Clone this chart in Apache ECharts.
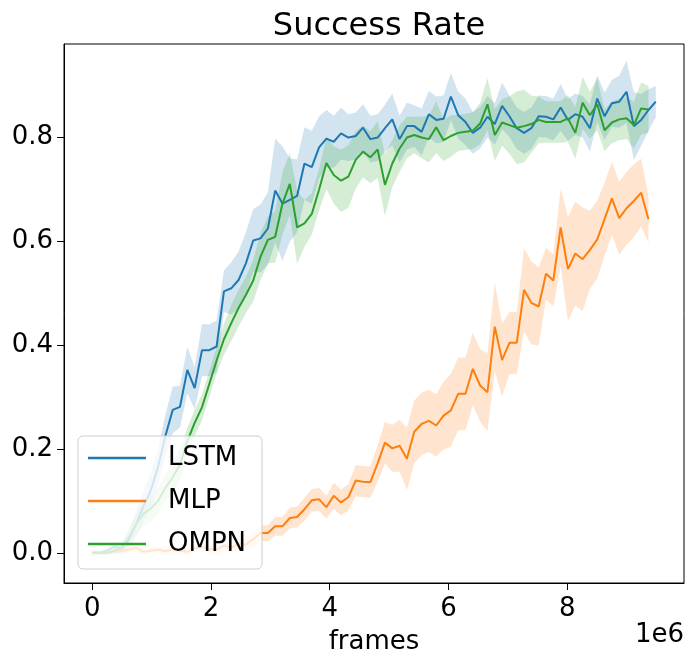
<!DOCTYPE html>
<html>
<head>
<meta charset="utf-8">
<script src="https://cdn.jsdelivr.net/npm/echarts@6/dist/echarts.min.js"></script>
<style>
  html, body { margin: 0; padding: 0; background: #fff; }
  #main { width: 694px; height: 664px; }
</style>
</head>
<body>
<div id="main"></div>
<script>
// frames between logged points (x is i * STEP)
var STEP = 123250;

var lstm = [0.0, 0.0, 0.004, 0.012, 0.008, 0.025, 0.055, 0.09, 0.12, 0.165,
  0.225, 0.275, 0.281, 0.352, 0.317, 0.39, 0.39, 0.397, 0.503, 0.509,
  0.525, 0.557, 0.601, 0.605, 0.624, 0.697, 0.672, 0.679, 0.687, 0.749,
  0.742, 0.78, 0.797, 0.791, 0.807, 0.799, 0.802, 0.818, 0.796, 0.799,
  0.817, 0.834, 0.796, 0.821, 0.821, 0.81, 0.844, 0.833, 0.835, 0.878,
  0.842, 0.829, 0.808, 0.818, 0.839, 0.825, 0.86, 0.84, 0.817, 0.808,
  0.817, 0.84, 0.839, 0.834, 0.857, 0.833, 0.844, 0.839, 0.817, 0.874,
  0.84, 0.865, 0.868, 0.887, 0.821, 0.833, 0.852, 0.868];
var lstmStd = [0.003, 0.003, 0.006, 0.01, 0.012, 0.02, 0.025, 0.03, 0.035, 0.035,
  0.04, 0.045, 0.04, 0.045, 0.04, 0.05, 0.05, 0.05, 0.04, 0.05,
  0.055, 0.06, 0.06, 0.065, 0.07, 0.1, 0.11, 0.08, 0.07, 0.07,
  0.07, 0.06, 0.055, 0.05, 0.05, 0.045, 0.045, 0.045, 0.045, 0.045,
  0.045, 0.05, 0.045, 0.045, 0.04, 0.045, 0.045, 0.045, 0.045, 0.045,
  0.045, 0.045, 0.04, 0.04, 0.04, 0.04, 0.045, 0.04, 0.04, 0.04,
  0.04, 0.04, 0.04, 0.04, 0.045, 0.04, 0.04, 0.04, 0.045, 0.045,
  0.045, 0.045, 0.05, 0.06, 0.065, 0.05, 0.04, 0.03];

var mlp = [0.0, 0.0, 0.0, 0.002, 0.004, 0.006, 0.01, 0.002, 0.004, 0.006,
  0.003, 0.007, 0.004, 0.002, 0.009, 0.012, 0.007, 0.006, 0.014, 0.01,
  0.018, 0.016, 0.026, 0.038, 0.038, 0.051, 0.051, 0.067, 0.069, 0.084,
  0.101, 0.103, 0.088, 0.11, 0.097, 0.107, 0.139, 0.137, 0.136, 0.172,
  0.212, 0.201, 0.206, 0.181, 0.233, 0.248, 0.254, 0.245, 0.264, 0.274,
  0.306, 0.306, 0.354, 0.322, 0.309, 0.435, 0.371, 0.404, 0.404, 0.506,
  0.481, 0.474, 0.537, 0.524, 0.626, 0.546, 0.576, 0.565, 0.583, 0.603,
  0.642, 0.682, 0.644, 0.663, 0.677, 0.693, 0.642];
var mlpStd = [0.004, 0.004, 0.004, 0.005, 0.006, 0.006, 0.008, 0.006, 0.006, 0.006,
  0.006, 0.006, 0.006, 0.006, 0.008, 0.008, 0.008, 0.008, 0.01, 0.01,
  0.012, 0.012, 0.014, 0.015, 0.015, 0.018, 0.018, 0.02, 0.02, 0.022,
  0.022, 0.022, 0.022, 0.025, 0.025, 0.025, 0.03, 0.03, 0.03, 0.035,
  0.04, 0.045, 0.05, 0.06, 0.06, 0.06, 0.06, 0.06, 0.065, 0.07,
  0.07, 0.07, 0.07, 0.07, 0.075, 0.085, 0.07, 0.06, 0.06, 0.08,
  0.08, 0.075, 0.05, 0.05, 0.075, 0.1, 0.1, 0.1, 0.075, 0.075,
  0.07, 0.07, 0.07, 0.07, 0.07, 0.065, 0.045];

var ompn = [0.0, 0.0, 0.0, 0.004, 0.01, 0.03, 0.055, 0.075, 0.085, 0.1,
  0.125, 0.145, 0.17, 0.215, 0.25, 0.28, 0.325, 0.37, 0.411, 0.442,
  0.471, 0.496, 0.524, 0.57, 0.602, 0.608, 0.672, 0.71, 0.626, 0.634,
  0.652, 0.699, 0.75, 0.727, 0.716, 0.724, 0.756, 0.772, 0.761, 0.776,
  0.708, 0.749, 0.778, 0.799, 0.804, 0.799, 0.796, 0.819, 0.794, 0.802,
  0.808, 0.81, 0.812, 0.826, 0.863, 0.804, 0.828, 0.823, 0.818, 0.821,
  0.825, 0.833, 0.829, 0.829, 0.829, 0.836, 0.808, 0.866, 0.842, 0.863,
  0.813, 0.828, 0.834, 0.836, 0.823, 0.855, 0.853];
var ompnStd = [0.003, 0.003, 0.003, 0.005, 0.008, 0.015, 0.02, 0.025, 0.025, 0.025,
  0.025, 0.03, 0.03, 0.025, 0.025, 0.025, 0.025, 0.025, 0.03, 0.035,
  0.035, 0.035, 0.04, 0.045, 0.045, 0.05, 0.06, 0.06, 0.07, 0.045,
  0.04, 0.04, 0.05, 0.055, 0.06, 0.06, 0.055, 0.05, 0.05, 0.055,
  0.06, 0.045, 0.045, 0.04, 0.035, 0.04, 0.045, 0.05, 0.04, 0.04,
  0.035, 0.035, 0.035, 0.04, 0.05, 0.05, 0.045, 0.055, 0.07, 0.07,
  0.055, 0.045, 0.04, 0.04, 0.04, 0.045, 0.05, 0.05, 0.045, 0.05,
  0.04, 0.04, 0.04, 0.04, 0.045, 0.05, 0.045];

var xTicks = [0, 2e6, 4e6, 6e6, 8e6];
var yTicks = [0, 0.2, 0.4, 0.6, 0.8];

var FONT = 'DejaVu Sans';
var BLUE = '#1f77b4', ORANGE = '#ff7f0e', GREEN = '#2ca02c';

function pairs(vals) {
  return vals.map(function (v, i) { return [i * STEP, v]; });
}

function band(name, vals, std, color) {
  var pts = vals.map(function (v, i) { return [i * STEP, v - std[i], v + std[i]]; });
  return {
    type: 'custom',
    name: name,
    silent: true,
    z: 1,
    data: pts,
    encode: { x: 0, y: [1, 2] },
    renderItem: function (params, api) {
      if (params.dataIndex !== 0) return null;
      var upper = [], lower = [];
      pts.forEach(function (p) {
        upper.push(api.coord([p[0], p[2]]));
        lower.push(api.coord([p[0], p[1]]));
      });
      return {
        type: 'polygon',
        shape: { points: upper.concat(lower.reverse()) },
        style: { fill: color, opacity: 0.2 }
      };
    }
  };
}

function line(name, vals, color) {
  return {
    type: 'line',
    name: name,
    data: pairs(vals),
    showSymbol: false,
    z: 3,
    color: color,
    lineStyle: { width: 2, color: color },
    animation: false
  };
}

var chartDom = document.getElementById('main');
var myChart = echarts.init(chartDom);
var option = {
  animation: false,
  textStyle: { fontFamily: FONT },
  title: {
    text: 'Success Rate',
    left: 374,
    top: 6,
    textAlign: 'center',
    textStyle: { fontFamily: FONT, fontSize: 32, fontWeight: 'normal', color: '#000' }
  },
  legend: {
    data: ['LSTM', 'MLP', 'OMPN'],
    orient: 'vertical',
    left: 78,
    top: 436,
    icon: 'rect',
    itemWidth: 58,
    itemHeight: 2.5,
    itemGap: 13,
    padding: [7, 16, 10, 10],
    backgroundColor: 'rgba(255,255,255,0.8)',
    borderColor: '#cccccc',
    borderWidth: 1,
    borderRadius: 5,
    textStyle: { fontFamily: FONT, fontSize: 26, color: '#000', lineHeight: 30, padding: [0, 0, 0, 17] }
  },
  grid: {
    left: 64, right: 10, top: 44, bottom: 81,
    show: true, borderColor: '#000', borderWidth: 1, backgroundColor: 'transparent'
  },
  xAxis: {
    type: 'value',
    min: -474500,
    max: 9965000,
    name: 'frames',
    nameLocation: 'middle',
    nameGap: 46,
    nameTextStyle: { fontFamily: FONT, fontSize: 26, color: '#000' },
    axisLine: { onZero: false, lineStyle: { color: '#000', width: 1 } },
    axisTick: { customValues: xTicks, length: 7, lineStyle: { color: '#000' } },
    axisLabel: {
      customValues: xTicks, margin: 13, fontFamily: FONT, fontSize: 26, color: '#000',
      formatter: function (v) { return String(Math.round(v / 1e6)); }
    },
    splitLine: { show: false }
  },
  yAxis: {
    type: 'value',
    min: -0.058,
    max: 0.979,
    axisLine: { show: true, onZero: false, lineStyle: { color: '#000', width: 1 } },
    axisTick: { show: true, customValues: yTicks, length: 7, lineStyle: { color: '#000' } },
    axisLabel: {
      customValues: yTicks, margin: 11, fontFamily: FONT, fontSize: 26, color: '#000',
      formatter: function (v) { return v.toFixed(1); }
    },
    splitLine: { show: false }
  },
  graphic: [{
    type: 'text',
    right: 10,
    top: 622,
    style: { text: '1e6', font: '26px "DejaVu Sans"', fill: '#000' }
  }],
  series: [
    band('LSTM band', lstm, lstmStd, BLUE),
    line('LSTM', lstm, BLUE),
    band('MLP band', mlp, mlpStd, ORANGE),
    line('MLP', mlp, ORANGE),
    band('OMPN band', ompn, ompnStd, GREEN),
    line('OMPN', ompn, GREEN)
  ]
};
option && myChart.setOption(option);
</script>
</body>
</html>
